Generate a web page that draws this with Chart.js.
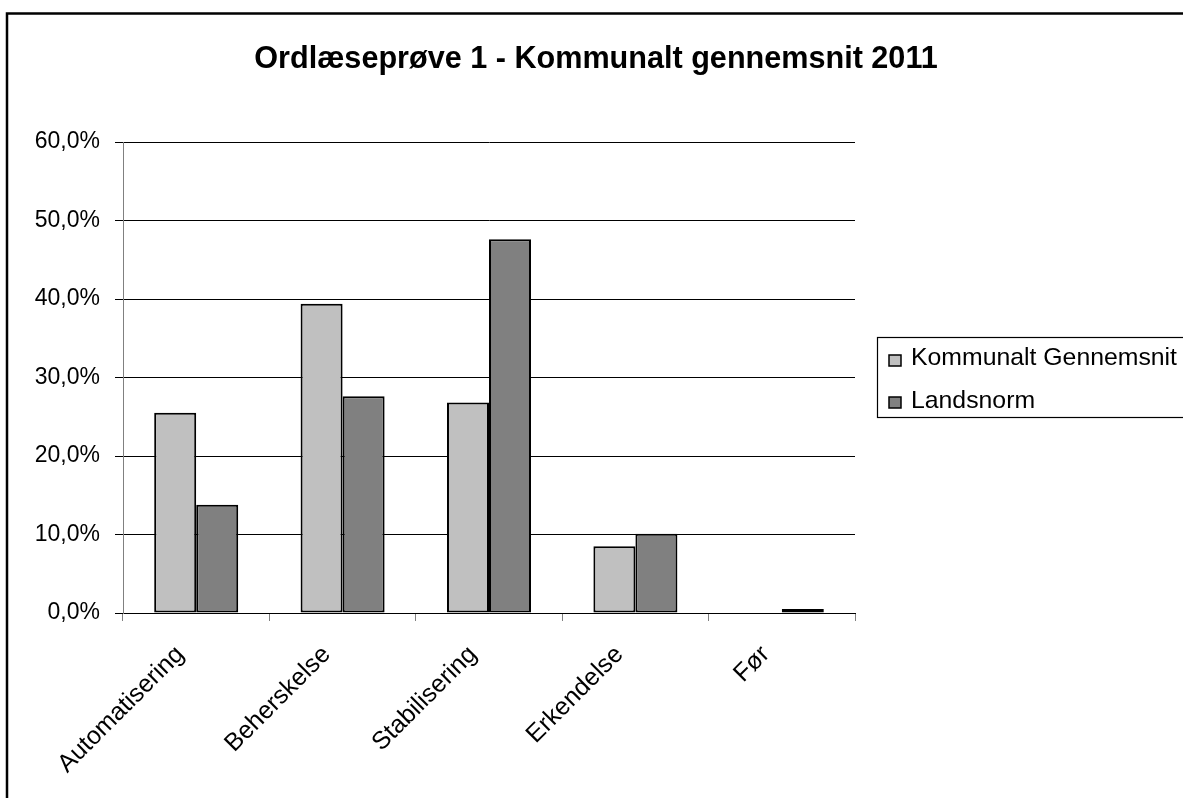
<!DOCTYPE html>
<html>
<head>
<meta charset="utf-8">
<script src="https://cdn.jsdelivr.net/npm/chart.js@4/dist/chart.umd.min.js"></script>
<style>
  html, body { margin: 0; padding: 0; background: #fff; }
  #wrap { width: 1183px; height: 798px; }
</style>
</head>
<body>
<div id="wrap"><canvas id="barChart" width="1183" height="798"></canvas></div>
<script>
var chartTitle = "Ordlæseprøve 1 - Kommunalt gennemsnit 2011";
var categories = ["Automatisering", "Beherskelse", "Stabilisering", "Erkendelse", "Før"];
var seriesNames = ["Kommunalt Gennemsnit", "Landsnorm"];
var kommunaltValues = [25.5, 39.4, 26.8, 8.5, 0];
var landsnormValues = [13.8, 27.6, 47.6, 10.1, 0.5];
var seriesColors = ["#c0c0c0", "#808080"];

Chart.defaults.font.family = "'Liberation Sans', Arial, sans-serif";
Chart.defaults.color = "#000";

// outer frame, title and the boxed legend on the right
var framePlugin = {
    id: "frame",
    afterDraw: function (chart) {
        var ctx = chart.ctx;
        ctx.save();
        ctx.strokeStyle = "#000";
        ctx.lineWidth = 2.5;
        ctx.strokeRect(7, 13.5, 1300, 900);

        ctx.fillStyle = "#000";
        ctx.font = "bold 30.6px 'Liberation Sans', Arial, sans-serif";
        ctx.textAlign = "center";
        ctx.textBaseline = "alphabetic";
        ctx.fillText(chartTitle, 596, 68);

        ctx.lineWidth = 1.2;
        ctx.strokeRect(877.5, 337.5, 400, 80);

        ctx.font = "24.8px 'Liberation Sans', Arial, sans-serif";
        ctx.textAlign = "left";
        chart.data.datasets.forEach(function (ds, i) {
            var y = 355 + i * 42;
            ctx.fillStyle = ds.backgroundColor;
            ctx.fillRect(889, y, 12, 11);
            ctx.lineWidth = 1.5;
            ctx.strokeStyle = "#000";
            ctx.strokeRect(889, y, 12, 11);
            ctx.fillStyle = "#000";
            ctx.fillText(ds.label, 911, 365 + i * 42.5);
        });
        ctx.restore();
    }
};

var barCanvas = document.getElementById("barChart").getContext("2d");

var newChart = new Chart(barCanvas, {
    type: "bar",
    data: {
        labels: categories,
        datasets: [{
            label: seriesNames[0],
            data: kommunaltValues,
            backgroundColor: seriesColors[0],
            borderColor: "#000",
            borderWidth: 2,
            borderSkipped: false
        }, {
            label: seriesNames[1],
            data: landsnormValues,
            backgroundColor: seriesColors[1],
            borderColor: "#000",
            borderWidth: 2,
            borderSkipped: false
        }]
    },
    options: {
        responsive: false,
        animation: false,
        layout: { padding: { left: 0, right: 328, top: 142, bottom: 0 } },
        datasets: { bar: { categoryPercentage: 0.574, barPercentage: 1 } },
        plugins: {
            legend: { display: false },
            title: { display: false },
            tooltip: { enabled: false }
        },
        scales: {
            x: {
                grid: {
                    offset: true,
                    drawOnChartArea: false,
                    drawTicks: true,
                    tickLength: 8,
                    color: "#808080"
                },
                border: { color: "#000", width: 1 },
                ticks: {
                    autoSkip: false,
                    minRotation: 45,
                    maxRotation: 45,
                    padding: 19,
                    labelOffset: -16,
                    font: { size: 25 }
                },
                afterFit: function (scale) { scale.height = 185; }
            },
            y: {
                min: 0,
                max: 60,
                grid: {
                    color: "#000",
                    lineWidth: 1,
                    drawTicks: true,
                    tickLength: 8
                },
                border: { color: "#808080", width: 1 },
                ticks: {
                    stepSize: 10,
                    padding: 15,
                    font: { size: 23 },
                    callback: function (v) { return v.toFixed(1).replace(".", ",") + "%"; }
                },
                afterFit: function (scale) { scale.width = 123; }
            }
        }
    },
    plugins: [framePlugin]
});
</script>
</body>
</html>
